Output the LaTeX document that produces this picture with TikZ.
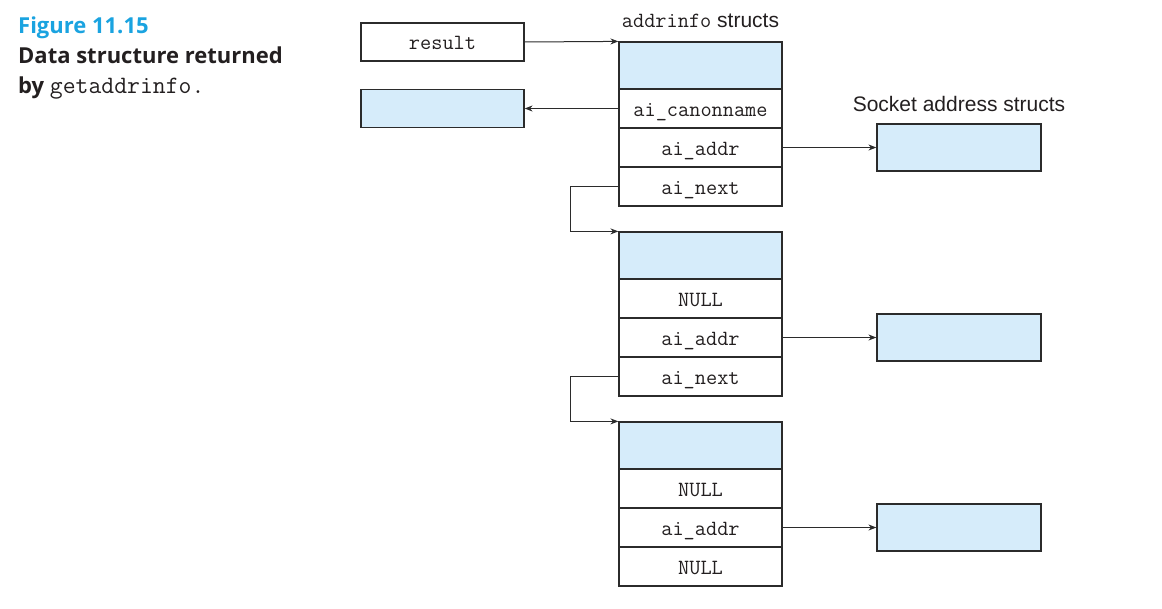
\documentclass[tikz,border=0pt]{standalone}
\usepackage{fontspec}
\setsansfont{Liberation Sans}
\newfontfamily\capfont{Open Sans}
\usetikzlibrary{arrows.meta}
\definecolor{cellblue}{HTML}{D6ECFA}
\definecolor{capblue}{HTML}{1AA3E0}
\definecolor{ln}{HTML}{2B2B2B}
\definecolor{txt}{HTML}{231F20}
\newcommand{\us}{{\char95}}
\begin{document}
\begin{tikzpicture}[x=1pt,y=-1pt,
 box/.style={draw=ln, line width=1.2pt, minimum width=163pt, inner sep=0pt, text=txt, text height=16pt, text depth=1pt, font=\fontsize{21.7}{24}\ttfamily},
 hdr/.style={box, fill=cellblue, minimum height=47pt},
 fld/.style={box, fill=white, minimum height=39pt},
 sock/.style={draw=ln, line width=1.2pt, fill=cellblue, minimum width=164pt, minimum height=47pt, inner sep=0pt},
 arr/.style={draw=ln, line width=1pt, -{Stealth[length=8pt,width=6pt]}},
 lab/.style={inner sep=0pt, text=txt, font=\fontsize{21}{24}\sffamily},
 capline/.style={inner sep=0pt, anchor=base west, font=\fontsize{22}{26}\capfont\bfseries}]
\useasboundingbox (0,0) rectangle (1162,608);
% caption
\node[capline, text=capblue] (c1) at (18,33) {Figure 11.15};
\node[capline, text=txt] (c2) at (18,63) {Data structure returned};
\node[capline, text=txt] (c3) at (18,93) {by {\mdseries\fontsize{25}{26}\ttfamily getaddrinfo.}};
% labels
\node[lab] (lab1) at (700.5,21) {{\fontsize{21.7}{24}\ttfamily addrinfo} structs};
\node[lab] (lab2) at (959,104) {Socket address structs};
% left boxes
\node[box, fill=white, minimum height=38pt] (result) at (442.5,42) {result};
\node[box, fill=cellblue, minimum height=38pt] (canon) at (442.5,108.5) {};
% struct 1
\node[hdr] (h1) at (700.5,65.5) {};
\node[fld] (f1a) at (700.5,108.5) {ai\us canonname};
\node[fld] (f1b) at (700.5,147.5) {ai\us addr};
\node[fld] (f1c) at (700.5,186.5) {ai\us next};
% struct 2
\node[hdr] (h2) at (700.5,255.5) {};
\node[fld] (f2a) at (700.5,298.5) {NULL};
\node[fld] (f2b) at (700.5,337.5) {ai\us addr};
\node[fld] (f2c) at (700.5,376.5) {ai\us next};
% struct 3
\node[hdr] (h3) at (700.5,445.5) {};
\node[fld] (f3a) at (700.5,488.5) {NULL};
\node[fld] (f3b) at (700.5,527.5) {ai\us addr};
\node[fld] (f3c) at (700.5,566.5) {NULL};
% socket boxes
\node[sock] (s1) at (959,147.5) {};
\node[sock] (s2) at (959,337.5) {};
\node[sock] (s3) at (959,527.5) {};
% connectors
\draw[arr] (result.east) -- (h1.north west);
\draw[arr] (f1a.west) -- (canon.east);
\draw[arr] (f1b.east) -- (s1.west);
\draw[arr] (f2b.east) -- (s2.west);
\draw[arr] (f3b.east) -- (s3.west);
\draw[arr] (f1c.west) -- ++(-48,0) |- (h2.north west);
\draw[arr] (f2c.west) -- ++(-48,0) |- (h3.north west);
\end{tikzpicture}
\end{document}
